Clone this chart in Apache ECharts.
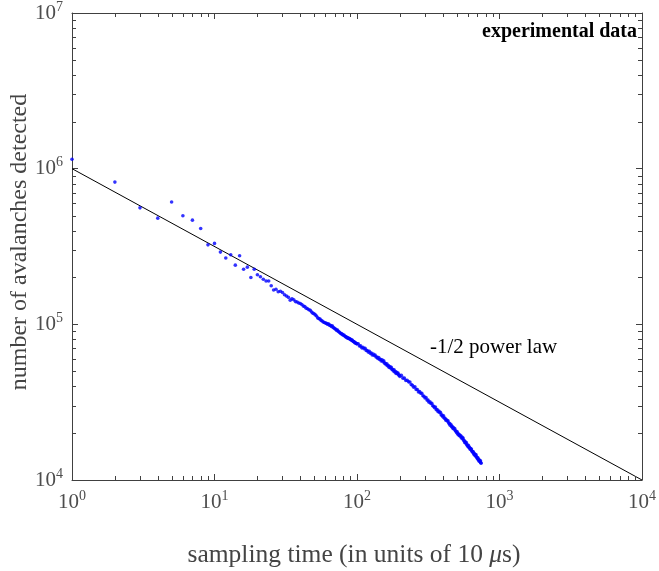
<!DOCTYPE html>
<html><head><meta charset="utf-8">
<script src="https://cdn.jsdelivr.net/npm/echarts@6/dist/echarts.min.js"></script>
<style>html,body{margin:0;padding:0;background:#fff}#c{width:659px;height:571px}</style>
</head><body><div id="c"></div>
<script>
// sampling time (units of 10 µs)
const sampleTimes = [
  1,2,3,4,5,6,7,8,9,10,11,12,13,14,15,16,17,18,19,20,
  21,22,23,24,25,26,27,28,29,30,31,32,33,34,35,36,37,38,39,40,
  41,42,43,44,45,46,47,48,49,50,51,52,53,54,55,56,57,58,59,60,
  61,62,63,64,65,66,67,68,69,70,71,72,73,74,75,76,77,78,79,80,
  81,82,83,84,85,86,87,88,89,90,91,92,93,94,95,96,97,98,99,100,
  102,104,106,108,110,112,114,116,118,120,122,124,126,128,130,132,134,136,138,140,
  142,144,146,148,150,152,154,156,158,160,162,164,166,168,170,172,174,176,178,180,
  182,184,186,188,190,192,194,196,198,200,
  205,210,215,220,225,230,235,240,245,250,255,260,265,270,275,280,285,290,295,300,
  305,310,315,320,325,330,335,340,345,350,355,360,365,370,375,380,385,390,395,400,
  405,410,415,420,425,430,435,440,445,450,455,460,465,470,475,480,485,490,495,500,
  505,510,515,520,525,530,535,540,545,550,555,560,565,570,575,580,585,590,595,600,
  605,610,615,620,625,630,635,640,645,650,655,660,665,670,675,680,685,690,695,700,
  705,710,715,720,725,730,735,740,743
];
// number of avalanches detected
const avalancheCounts = [
  1150000,820000,560000,481000,611000,498000,467000,413000,324000,331000,
  291000,267000,280000,240000,276000,226000,233000,200000,226000,208000,
  202000,195000,190000,190000,177000,166000,168000,162000,163000,160000,
  155000,152000,149000,143000,146000,144000,140000,139000,137000,136000,
  134000,131000,130000,127000,126000,124000,123000,120000,118000,117000,
  115000,113000,110000,109000,108000,106000,105000,103500,102800,102000,
  101500,100200,100900,98800,98600,97000,97900,95600,94800,93600,
  93000,91400,91900,89900,89300,88200,87400,86800,86300,85000,
  85400,84200,83100,83300,82100,81800,81500,80900,80700,80100,
  79200,79500,78300,77900,77200,76900,76000,75800,75200,74900,
  75000,72500,72700,70600,71300,69800,70200,68000,67800,66300,
  67200,65100,65400,63600,64400,63100,63600,61700,61600,60400,
  61200,59400,59700,58200,59100,57800,58300,56300,56200,55000,
  55800,54100,54300,52800,53500,52400,53000,51300,51300,50200,
  51000,49400,49700,48400,49100,48200,48600,47200,47200,46200,
  47000,45100,45100,43600,43700,42700,42600,41000,40600,39400,
  39700,38200,38100,36800,37000,36100,36100,34800,34500,33600,
  33900,32600,32600,31600,31800,31000,31100,30000,29800,29100,
  29400,28300,28400,27500,27700,27100,27200,26200,26100,25500,
  25800,24900,24900,24200,24400,23900,24000,23200,23100,22500,
  22800,22100,22100,21500,21700,21200,21400,20700,20600,20100,
  20400,19700,19800,19300,19500,19100,19200,18600,18900,18500,
  18600,18000,17900,17400,17600,17200,17400,16800,16800,16400,
  16700,16200,16200,15800,16000,15700,15800,15300,15300,15000,
  15200,14700,14800,14400,14600,14300,14500,14000,14000,13700,
  13900,13500,13600,13200,13400,13100,13300,12900,12800
];
// -1/2 power law reference line
const powerLawX = [1, 10000];
const powerLawY = [1000000, 10000];
// minor tick positions
const xMinorTicks = [2,3,4,5,6,7,8,9,20,30,40,50,60,70,80,90,200,300,400,500,600,700,800,900,2000,3000,4000,5000,6000,7000,8000,9000];
const yMinorTicks = [20000,30000,40000,50000,60000,70000,80000,90000,200000,300000,400000,500000,600000,700000,800000,900000,2000000,3000000,4000000,5000000,6000000,7000000,8000000,9000000];
const xRange = [1, 10000];
const yRange = [10000, 10000000];

const FONT = "'Liberation Serif','Times New Roman',serif";
const AX = '#404040';
const LBL = '#4d4d4d';

const chart = echarts.init(document.getElementById('c'), null, {renderer: 'canvas'});

function supLabel(v) {
  const e = Math.round(Math.log10(v));
  return '{b|10}{s|' + e + '}';
}
const labelRich = {
  b: {fontSize: 21, fontFamily: FONT, color: LBL},
  s: {fontSize: 14, fontFamily: FONT, color: LBL, padding: [0, 0, 12, 0]}
};

function baseAxis(pos, range, showLabel) {
  return {
    type: 'log', logBase: 10, min: range[0], max: range[1], position: pos,
    axisLine: {show: true, lineStyle: {color: AX, width: 1}},
    axisTick: {show: true, inside: true, length: 6, lineStyle: {color: AX}},
    axisLabel: showLabel ? {show: true, formatter: supLabel, rich: labelRich, margin: 9} : {show: false},
    splitLine: {show: false}, minorTick: {show: false}
  };
}

const data = sampleTimes.map((t, i) => [t, avalancheCounts[i]]);
const lineData = powerLawX.map((x, i) => [x, powerLawY[i]]);

const option = {
  animation: false,
  backgroundColor: '#fff',
  grid: {left: 72, right: 12, top: 11, bottom: 91, containLabel: false},
  xAxis: [baseAxis('bottom', xRange, true), baseAxis('top', xRange, false)],
  yAxis: [baseAxis('left', yRange, true), baseAxis('right', yRange, false)],
  series: [
    {
      type: 'line', data: lineData, xAxisIndex: 0, yAxisIndex: 0,
      showSymbol: false, symbol: 'none',
      lineStyle: {color: '#000', width: 1}, z: 3, silent: true
    },
    {
      type: 'scatter', data: data, xAxisIndex: 0, yAxisIndex: 0,
      symbol: 'circle', symbolSize: 3.6,
      itemStyle: {color: '#0000ff'}, z: 4, silent: true
    },
    {
      type: 'custom', xAxisIndex: 0, yAxisIndex: 0, silent: true, z: 5,
      data: xMinorTicks.map(v => [v, yRange[0]]),
      renderItem: function (params, api) {
        const b = api.coord([api.value(0), yRange[0]]);
        const t = api.coord([api.value(0), yRange[1]]);
        const x = Math.round(b[0]) + 0.5;
        return {type: 'group', children: [
          {type: 'line', shape: {x1: x, y1: b[1], x2: x, y2: b[1] - 4}, style: {stroke: AX, lineWidth: 1}},
          {type: 'line', shape: {x1: x, y1: t[1], x2: x, y2: t[1] + 4}, style: {stroke: AX, lineWidth: 1}}
        ]};
      }
    },
    {
      type: 'custom', xAxisIndex: 0, yAxisIndex: 0, silent: true, z: 5,
      data: yMinorTicks.map(v => [xRange[0], v]),
      renderItem: function (params, api) {
        const l = api.coord([xRange[0], api.value(1)]);
        const r = api.coord([xRange[1], api.value(1)]);
        const y = Math.round(l[1]) + 0.5;
        return {type: 'group', children: [
          {type: 'line', shape: {x1: l[0], y1: y, x2: l[0] + 4, y2: y}, style: {stroke: AX, lineWidth: 1}},
          {type: 'line', shape: {x1: r[0], y1: y, x2: r[0] - 4, y2: y}, style: {stroke: AX, lineWidth: 1}}
        ]};
      }
    }
  ],
  graphic: [
    {type: 'text', x: 637, y: 32, z: 10,
     style: {text: 'experimental data', fontFamily: FONT, fontWeight: 'bold', fontSize: 20, fill: '#000', align: 'right', verticalAlign: 'middle'}},
    {type: 'text', x: 430, y: 347, z: 10,
     style: {text: '-1/2 power law', fontFamily: FONT, fontSize: 21, fill: '#000', align: 'left', verticalAlign: 'middle'}},
    {type: 'text', x: 354, y: 555, z: 10,
     style: {text: 'sampling time (in units of 10 {i|μ}s)', fontFamily: FONT, fontSize: 25.5, fill: '#444', align: 'center', verticalAlign: 'middle',
       rich: {i: {fontStyle: 'italic', fontFamily: FONT, fontSize: 25.5, fill: '#444', color: '#444'}}}},
    {type: 'text', x: 20, y: 242, rotation: Math.PI / 2, z: 10,
     style: {text: 'number of avalanches detected', fontFamily: FONT, fontSize: 24, fill: '#444', align: 'center', verticalAlign: 'middle'}}
  ]
};
chart.setOption(option);
</script>
</body></html>
